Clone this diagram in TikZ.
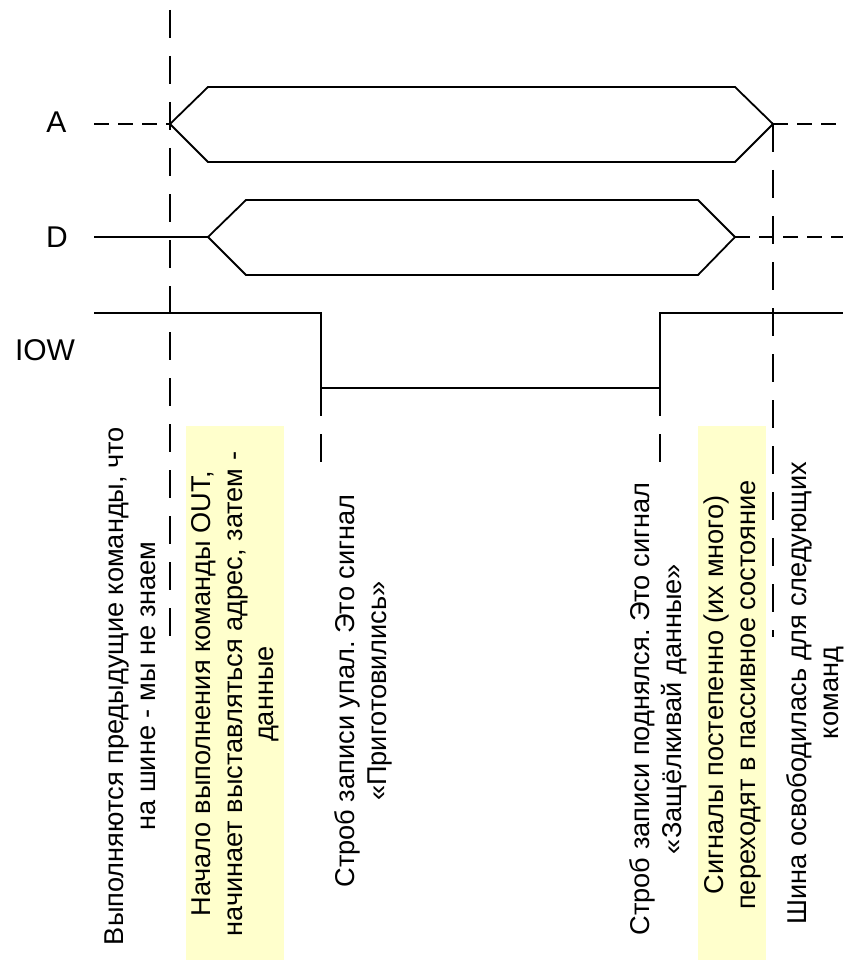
\documentclass[tikz,border=0pt]{standalone}
\usepackage{fontspec}
\setmainfont{Liberation Sans}
\definecolor{hlyellow}{RGB}{255,255,204}
\frenchspacing
\begin{document}
\begin{tikzpicture}[x=1pt,y=-1pt,
  sig/.style={line width=1.8pt},
  guide/.style={line width=1.8pt, dash pattern=on 28pt off 18pt},
  hdash/.style={line width=1.8pt, dash pattern=on 15pt off 9pt},
  note/.style={rotate=90, align=center, inner sep=0pt, font=\fontsize{27.2}{31.5}\selectfont},
  lbl/.style={font=\fontsize{30}{36}\selectfont, inner sep=0pt, anchor=base},
  hlbox/.style={fill=hlyellow, draw=none}]
\useasboundingbox (0,0) rectangle (843,960);
% highlight boxes
\path[hlbox] (186,426) rectangle (284,960);
\path[hlbox] (698,426) rectangle (766,960);
% key coordinates
\coordinate (t0) at (170,10);
\coordinate (t0e) at (170,637);
\coordinate (aL) at (170,124);
\coordinate (aR) at (773,124);
\coordinate (t1e) at (773,637);
\coordinate (aS) at (94,124);
\coordinate (aE) at (843,124);
\coordinate (dS) at (94,237);
\coordinate (dL) at (208,237);
\coordinate (dR) at (735,237);
\coordinate (dE) at (843,237);
\coordinate (wS) at (94,313);
\coordinate (wF1) at (321,313);
\coordinate (wF2) at (321,388);
\coordinate (wR1) at (660,388);
\coordinate (wR2) at (660,313);
\coordinate (wE) at (843,313);
\coordinate (g1) at (321,465);
\coordinate (g2) at (660,465);
% guides
\draw[guide] (t0) -- (t0e);
\draw[guide] (aR) -- (t1e);
\draw[guide] (wF2) -- (g1);
\draw[guide] (wR1) -- (g2);
% A bus
\draw[hdash] (aS) -- (aL);
\draw[sig] (aL) -- (208,87) -- (735,87) -- (aR) -- (735,162) -- (208,162) -- cycle;
\draw[hdash] (aR) -- (aE);
% D bus
\draw[sig] (dS) -- (dL);
\draw[sig] (dL) -- (246,200) -- (698,200) -- (dR) -- (698,275) -- (246,275) -- cycle;
\draw[hdash] (dR) -- (dE);
% IOW
\draw[sig] (wS) -- (wF1) -- (wF2) -- (wR1) -- (wR2) -- (wE);
% labels
\node[lbl] (la) at (56.5,133) {A};
\node[lbl] (ld) at (57,247) {D};
\node[lbl] (lw) at (45,360) {IOW};
% notes
\node[note] (n1) at (130.5,686) {Выполняются предыдущие команды, что\\на шине - мы не знаем};
\node[note] (n2) at (235.5,694) {Начало выполнения команды OUT,\\начинает выставляться адрес, затем -\\данные};
\node[note] (n3) at (363.5,691) {Строб записи упал. Это сигнал\\«Приготовились»};
\node[note] (n4) at (658,709) {Строб записи поднялся. Это сигнал\\«Защёлкивай данные»};
\node[note] (n5) at (732.5,695) {Сигналы постепенно (их много)\\переходят в пассивное состояние};
\node[note] (n6) at (815,693) {Шина освободилась для следующих\\команд};
\end{tikzpicture}
\end{document}
